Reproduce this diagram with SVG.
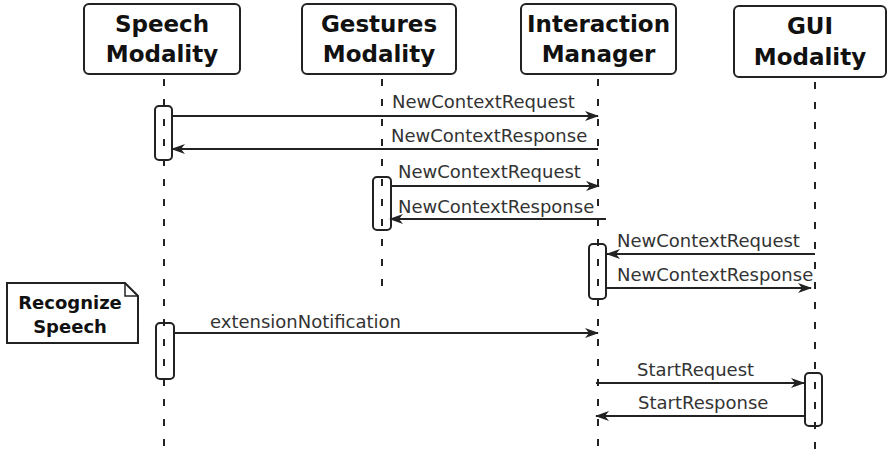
<svg xmlns="http://www.w3.org/2000/svg" width="888" height="459" viewBox="0 0 888 459">
<style>
.box{fill:#fff;stroke:#222;stroke-width:2}
.hdr{font-family:"DejaVu Sans",Verdana,sans-serif;font-weight:bold;font-size:23px;fill:#111;text-anchor:middle}
.note{font-family:"DejaVu Sans",Verdana,sans-serif;font-weight:bold;font-size:18px;fill:#111;text-anchor:middle}
.life{stroke:#222;stroke-width:2;stroke-dasharray:7 13;fill:none}
.act{fill:none;stroke:#222;stroke-width:2}
.msg{stroke:#222;stroke-width:2;fill:none}
.lbl{font-family:"DejaVu Sans",Verdana,sans-serif;font-size:18px;fill:#333}
</style>
<defs>
<marker id="ah" viewBox="0 0 14 10" refX="13" refY="5" markerWidth="14" markerHeight="10" markerUnits="userSpaceOnUse" orient="auto">
<path d="M0,0 L14,5 L0,10 L4,5 z" fill="#222"/>
</marker>
</defs>
<rect width="888" height="459" fill="#fff"/>
<g id="lifelines">
<line class="life" x1="164" y1="79" x2="164" y2="457"/>
<line class="life" x1="382" y1="79" x2="382" y2="292"/>
<line class="life" x1="598" y1="79" x2="598" y2="452"/>
<line class="life" x1="815" y1="82" x2="815" y2="452"/>
</g>
<g id="speech">
<rect class="box" x="84" y="4" width="156" height="70" rx="5"/>
<text class="hdr" x="162" y="32">Speech</text>
<text class="hdr" x="162" y="62">Modality</text>
</g>
<g id="gestures">
<rect class="box" x="302" y="4" width="154" height="70" rx="5"/>
<text class="hdr" x="379" y="32">Gestures</text>
<text class="hdr" x="379" y="62">Modality</text>
</g>
<g id="im">
<rect class="box" x="521" y="4" width="155" height="70" rx="5"/>
<text class="hdr" x="598.5" y="32">Interaction</text>
<text class="hdr" x="598.5" y="62">Manager</text>
</g>
<g id="gui">
<rect class="box" x="734" y="6" width="152" height="71" rx="5"/>
<text class="hdr" x="810" y="34">GUI</text>
<text class="hdr" x="810" y="65">Modality</text>
</g>
<g id="note">
<path class="box" d="M7,283 H125 L138,296 V343 H7 Z"/>
<path d="M125,283 V296 H138" fill="none" stroke="#222" stroke-width="1.5"/>
<text class="note" x="70" y="309">Recognize</text>
<text class="note" x="70" y="333">Speech</text>
</g>
<g id="activations">
<rect class="act" x="155" y="106" width="17" height="54" rx="4"/>
<rect class="act" x="373" y="177" width="18" height="53" rx="4"/>
<rect class="act" x="589" y="244" width="17" height="55" rx="4"/>
<rect class="act" x="156" y="323" width="18" height="56" rx="4"/>
<rect class="act" x="805" y="373" width="17" height="53" rx="4"/>
</g>
<g id="connectors">
<line class="msg" x1="173" y1="116" x2="598" y2="116" marker-end="url(#ah)"/>
<line class="msg" x1="598" y1="149" x2="172" y2="149" marker-end="url(#ah)"/>
<line class="msg" x1="392" y1="186" x2="599" y2="186" marker-end="url(#ah)"/>
<line class="msg" x1="606" y1="219" x2="390" y2="219" marker-end="url(#ah)"/>
<line class="msg" x1="815" y1="254" x2="607" y2="254" marker-end="url(#ah)"/>
<line class="msg" x1="607" y1="288" x2="811" y2="288" marker-end="url(#ah)"/>
<line class="msg" x1="175" y1="333" x2="598" y2="333" marker-end="url(#ah)"/>
<line class="msg" x1="596" y1="383" x2="804" y2="383" marker-end="url(#ah)"/>
<line class="msg" x1="805" y1="416" x2="596" y2="416" marker-end="url(#ah)"/>
</g>
<g id="labels">
<text class="lbl" x="392" y="108">NewContextRequest</text>
<text class="lbl" x="391" y="142">NewContextResponse</text>
<text class="lbl" x="398" y="178">NewContextRequest</text>
<text class="lbl" x="398" y="213">NewContextResponse</text>
<text class="lbl" x="617" y="247">NewContextRequest</text>
<text class="lbl" x="617" y="281">NewContextResponse</text>
<text class="lbl" x="210" y="328">extensionNotification</text>
<text class="lbl" x="637" y="376">StartRequest</text>
<text class="lbl" x="638" y="409">StartResponse</text>
</g>
</svg>
